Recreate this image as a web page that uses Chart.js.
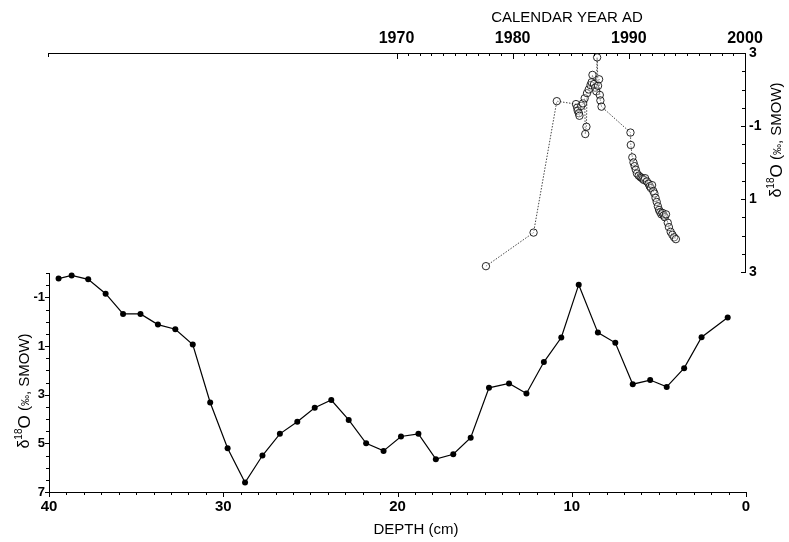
<!DOCTYPE html>
<html>
<head>
<meta charset="utf-8">
<script src="https://cdn.jsdelivr.net/npm/chart.js@4.4.1/dist/chart.umd.min.js"></script>
<style>
  body { margin: 0; background: #fff; }
  #wrap { position: relative; width: 789px; height: 542px; }
  #wrap canvas { position: absolute; left: 0; top: 0; }
</style>
</head>
<body>
<div id="wrap">
  <canvas id="coreChart" width="789" height="542"></canvas>
  <canvas id="yearChart" width="789" height="542"></canvas>
</div>
<script>
// core profile: depth (cm) vs d18O
const depthCm = [39.45, 38.7, 37.75, 36.75, 35.75, 34.75, 33.75, 32.75, 31.75, 30.75,
    29.75, 28.75, 27.75, 26.75, 25.75, 24.75, 23.8, 22.8, 21.8, 20.8,
    19.8, 18.8, 17.8, 16.8, 15.8, 14.75, 13.6, 12.6, 11.6, 10.6,
    9.6, 8.5, 7.5, 6.5, 5.5, 4.55, 3.55, 2.55, 1.05];
const coreD18O = [-1.77, -1.9, -1.74, -1.15, -0.32, -0.32, 0.12, 0.31, 0.94, 3.32,
    5.2, 6.61, 5.5, 4.61, 4.11, 3.54, 3.22, 4.04, 5.0, 5.31,
    4.72, 4.61, 5.65, 5.45, 4.77, 2.72, 2.54, 2.95, 1.66, 0.65,
    -1.52, 0.45, 0.87, 2.57, 2.4, 2.68, 1.91, 0.64, -0.17];

// dated record: calendar year vs d18O
const calYear = [1977.7, 1981.8, 1983.8, 1985.45, 1985.55, 1985.6, 1985.7, 1985.75, 1985.9, 1986.05,
    1986.2, 1986.25, 1986.35, 1986.4, 1986.55, 1986.7, 1986.8, 1986.87, 1987.0, 1987.1,
    1987.2, 1987.27, 1987.35, 1987.44, 1987.5, 1987.55, 1987.65, 1990.14, 1990.17, 1990.3,
    1990.4, 1990.5, 1990.6, 1990.7, 1990.85, 1991.0, 1991.1, 1991.2, 1991.3, 1991.4,
    1991.55, 1991.7, 1991.8, 1991.9, 1992.0, 1992.1, 1992.2, 1992.3, 1992.4, 1992.5,
    1992.6, 1992.7, 1992.8, 1992.9, 1993.0, 1993.1, 1993.2, 1993.35, 1993.45, 1993.6,
    1993.75, 1993.9, 1994.05];
const yearD18O = [2.84, 1.92, -1.68, -1.6, -1.5, -1.42, -1.35, -1.28, -1.55, -1.62,
    -1.76, -0.78, -0.98, -1.9, -2.0, -2.12, -2.2, -2.4, -2.15, -2.05,
    -1.95, -2.88, -2.1, -2.28, -1.85, -1.7, -1.53, -0.82, -0.48, -0.14,
    0.0, 0.1, 0.2, 0.3, 0.36, 0.4, 0.42, 0.45, 0.48, 0.43,
    0.52, 0.58, 0.65, 0.7, 0.62, 0.78, 0.85, 0.97, 1.08, 1.2,
    1.3, 1.36, 1.42, 1.38, 1.45, 1.5, 1.42, 1.65, 1.77, 1.9,
    1.98, 2.05, 2.1];

// tick labels
const depthTicks = [40, 30, 20, 10, 0];
const coreTicks = [-1, 1, 3, 5, 7];
const yearTicks = [1970, 1980, 1990, 2000];
const yearAxisTicks = [-3, -1, 1, 3];
const yearAxisLabels = ['3', '-1', '1', '3'];

const FONT = "'Liberation Sans', Arial, sans-serif";

// minor / major tick marks drawn from the scales
const tickMarks = {
    id: 'tickMarks',
    afterDraw(chart, args, opts) {
        const ctx = chart.ctx;
        ctx.save();
        ctx.strokeStyle = '#000';
        ctx.lineWidth = 1;
        opts.axes.forEach(a => {
            const s = chart.scales[a.id];
            const n = Math.round((a.to - a.from) / a.step);
            for (let i = 0; i <= n; i++) {
                const v = a.from + i * a.step;
                const k = (v - a.majorFrom) / a.majorStep;
                const major = Math.abs(k - Math.round(k)) < 1e-6;
                const len = major ? a.major : a.minor;
                const p = Math.round(s.getPixelForValue(v)) + 0.5;
                ctx.beginPath();
                if (s.isHorizontal()) {
                    const y0 = s.position === 'top' ? s.bottom : s.top;
                    ctx.moveTo(p, y0); ctx.lineTo(p, y0 + a.dir * len);
                } else {
                    const x0 = s.position === 'left' ? s.right : s.left;
                    ctx.moveTo(x0, p); ctx.lineTo(x0 + a.dir * len, p);
                }
                ctx.stroke();
            }
        });
        ctx.restore();
    }
};

// d18O title with superscript, rotated to read upwards
function drawDelta(ctx, cx, cy) {
    const parts = [
        { t: 'δ', f: '16px ' + FONT, dy: 0 },
        { t: '18', f: '10px ' + FONT, dy: -6 },
        { t: 'O', f: '17px ' + FONT, dy: 0 },
        { t: ' (', f: '15px ' + FONT, dy: 0 },
        { t: '‰', f: '11px ' + FONT, dy: 1 },
        { t: ', SMOW)', f: '15px ' + FONT, dy: 0 }
    ];
    ctx.save();
    ctx.translate(cx, cy);
    ctx.rotate(-Math.PI / 2);
    ctx.fillStyle = '#000';
    ctx.textAlign = 'left';
    ctx.textBaseline = 'middle';
    let total = 0;
    parts.forEach(p => { ctx.font = p.f; p.w = ctx.measureText(p.t).width; total += p.w; });
    let x = -total / 2;
    parts.forEach(p => { ctx.font = p.f; ctx.fillText(p.t, x, p.dy); x += p.w; });
    ctx.restore();
}

const axisTitles = {
    id: 'axisTitles',
    afterDraw(chart, args, opts) {
        const ctx = chart.ctx;
        ctx.save();
        ctx.fillStyle = '#000';
        ctx.textAlign = 'center';
        ctx.textBaseline = 'middle';
        ctx.font = '15px ' + FONT;
        if (opts.which === 'core') {
            ctx.fillText('DEPTH (cm)', 416, 530);
            drawDelta(ctx, 25, 391);
        } else {
            ctx.fillText('CALENDAR YEAR AD', 567, 18);
            drawDelta(ctx, 777, 140);
        }
        ctx.restore();
    }
};

const noGrid = { display: true, drawOnChartArea: false, drawTicks: false };
const axisBorder = { display: true, color: '#000', width: 1 };

// lower panel: depth profile
new Chart(document.getElementById('coreChart'), {
    type: 'scatter',
    data: {
        datasets: [{
            data: depthCm.map((d, i) => ({ x: d, y: coreD18O[i] })),
            showLine: true,
            borderColor: '#000',
            borderWidth: 1.2,
            backgroundColor: '#000',
            pointRadius: 3,
            pointBorderWidth: 0,
            clip: false
        }]
    },
    options: {
        responsive: false,
        animation: false,
        layout: { padding: { top: 273, right: 43, left: 0, bottom: 0 } },
        plugins: {
            legend: { display: false },
            tooltip: { enabled: false },
            tickMarks: { axes: [
                { id: 'x', from: 0, to: 40, step: 1, majorFrom: 0, majorStep: 10, major: 5, minor: 3, dir: 1 },
                { id: 'y', from: -2, to: 7, step: 0.5, majorFrom: -1, majorStep: 2, major: 4, minor: 3, dir: -1 }
            ] },
            axisTitles: { which: 'core' }
        },
        scales: {
            x: {
                type: 'linear', position: 'bottom', reverse: true, min: 0, max: 40,
                afterBuildTicks: s => { s.ticks = depthTicks.map(v => ({ value: v })); },
                afterFit: s => { s.height = 50; },
                grid: noGrid, border: axisBorder,
                ticks: { padding: 6, color: '#000', maxRotation: 0,
                    font: { family: FONT, size: 15, weight: 'bold' },
                    callback: v => String(v) }
            },
            y: {
                type: 'linear', position: 'left', reverse: true, min: -2, max: 7,
                afterBuildTicks: s => { s.ticks = coreTicks.map(v => ({ value: v })); },
                afterFit: s => { s.width = 49; },
                grid: noGrid, border: axisBorder,
                ticks: { padding: 4, color: '#000',
                    font: { family: FONT, size: 13, weight: 'bold' },
                    callback: v => String(v) }
            }
        }
    },
    plugins: [tickMarks, axisTitles]
});

// upper panel: calendar-year record
new Chart(document.getElementById('yearChart'), {
    type: 'scatter',
    data: {
        datasets: [{
            data: calYear.map((yr, i) => ({ x: yr, y: yearD18O[i] })),
            showLine: true,
            borderColor: '#444',
            borderWidth: 1,
            borderDash: [1.5, 1.5],
            backgroundColor: 'rgba(255,255,255,0.35)',
            pointBorderColor: '#111',
            pointBorderWidth: 0.9,
            pointRadius: 3.7,
            clip: false
        }]
    },
    options: {
        responsive: false,
        animation: false,
        layout: { padding: { top: 0, right: 0, left: 48, bottom: 270 } },
        plugins: {
            legend: { display: false },
            tooltip: { enabled: false },
            tickMarks: { axes: [
                { id: 'x', from: 1970, to: 2000, step: 1, majorFrom: 1970, majorStep: 10, major: 6, minor: 3, dir: 1 },
                { id: 'x', from: 1940, to: 1940, step: 1, majorFrom: 1940, majorStep: 10, major: 4, minor: 4, dir: 1 },
                { id: 'y', from: -3, to: 3, step: 0.5, majorFrom: -3, majorStep: 2, major: 4, minor: 3, dir: -1 }
            ] },
            axisTitles: { which: 'year' }
        },
        scales: {
            x: {
                type: 'linear', position: 'top', min: 1940, max: 2000,
                afterBuildTicks: s => { s.ticks = yearTicks.map(v => ({ value: v })); },
                afterFit: s => { s.height = 53; },
                grid: noGrid, border: axisBorder,
                ticks: { padding: 5, color: '#000', maxRotation: 0,
                    font: { family: FONT, size: 16, weight: 'bold' },
                    callback: v => String(v) }
            },
            y: {
                type: 'linear', position: 'right', reverse: true, min: -3, max: 3,
                afterBuildTicks: s => { s.ticks = yearAxisTicks.map(v => ({ value: v })); },
                afterFit: s => { s.width = 44; },
                grid: noGrid, border: axisBorder,
                ticks: {
                    padding: 4, color: '#000', font: { family: FONT, size: 14, weight: 'bold' },
                    callback: (v, i) => yearAxisLabels[i]
                }
            }
        }
    },
    plugins: [tickMarks, axisTitles]
});
</script>
</body>
</html>
